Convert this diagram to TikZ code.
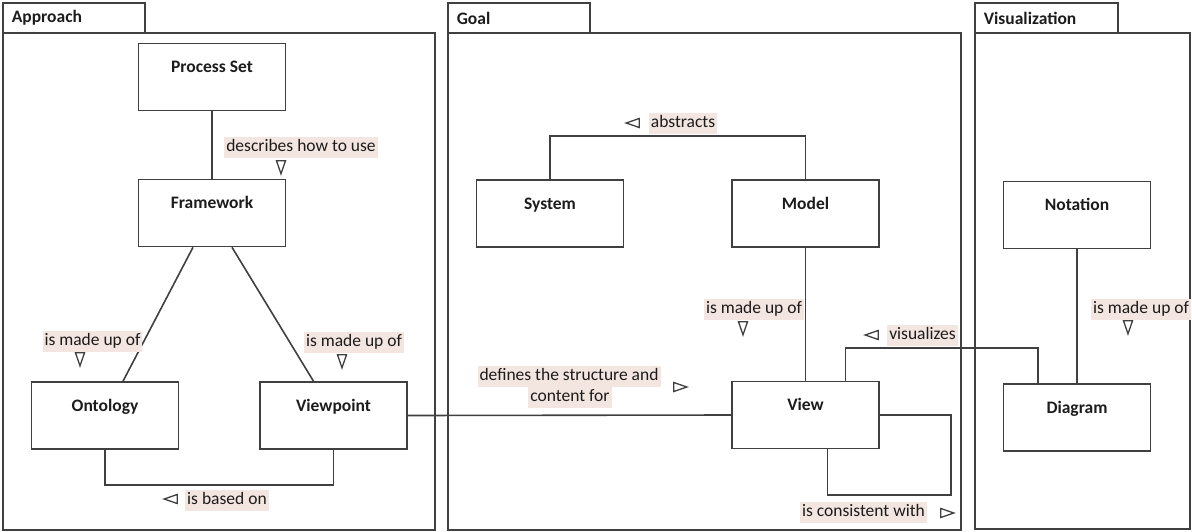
\documentclass[tikz,border=0pt]{standalone}
\usepackage{fontspec}
\setmainfont{Carlito}
\usetikzlibrary{shapes.geometric}
\definecolor{lblbg}{RGB}{243,229,223}
\definecolor{ink}{RGB}{64,64,64}
\definecolor{txt}{RGB}{28,28,28}

\begin{document}
\begin{tikzpicture}[x=1pt,y=-1pt,line width=1.6pt,color=ink,
	cls/.style={draw,rectangle,minimum width=147pt,minimum height=67pt,inner sep=0pt,text height=11pt,text depth=20pt,font=\bfseries\fontsize{17.5}{20}\selectfont,text=txt},
	pkgtitle/.style={anchor=west,inner sep=0pt,font=\bfseries\fontsize{17.5}{20}\selectfont,text=txt},
	lbl/.style={fill=lblbg,inner xsep=2pt,inner ysep=2.5pt,text height=12pt,text depth=4pt,font=\fontsize{17.5}{20}\selectfont,text=txt},
	tri/.style={draw,isosceles triangle,isosceles triangle stretches,minimum width=9pt,minimum height=13pt,inner sep=0pt,line width=1.3pt},
	trid/.style={tri,shape border rotate=-90},
	tril/.style={tri,shape border rotate=180},
	trir/.style={tri,shape border rotate=0}]
					\useasboundingbox (0,0) rectangle (1192,531);

					\draw (3,3) rectangle (145,33);
					\draw (3,33) rectangle (435,530);
					\draw (448,3) rectangle (590,33);
					\draw (448,33) rectangle (961,530);
					\draw (975,3) rectangle (1118,33);
					\draw (975,33) rectangle (1190,529);
					\node (tapp) [pkgtitle] at (11,18) {Approach};
					\node (tgoal) [pkgtitle] at (456,18) {Goal};
					\node (tvis) [pkgtitle] at (983,18) {Visualization};

					\node (ps) [cls] at (212,77) {Process Set};
					\node (fw) [cls] at (212,213) {Framework};
					\node (onto) [cls] at (105,415.5) {Ontology};
					\node (vp) [cls] at (333.5,415.5) {Viewpoint};
					\node (sys) [cls] at (550,213.5) {System};
					\node (mdl) [cls] at (805.5,213.5) {Model};
					\node (view) [cls] at (805.5,415) {View};
					\node (nota) [cls] at (1077,215) {Notation};
					\node (diag) [cls] at (1077,417.5) {Diagram};

					\path (ps.south) edge (fw.north);
					\path ([xshift=-19pt]fw.south) edge ([xshift=18pt]onto.north);
					\path ([xshift=20pt]fw.south) edge ([xshift=-20pt]vp.north);
					\draw (onto.south) -- ++(0,35) -| (vp.south);
					\path (vp.east) edge (view.west);
					\draw (sys.north) -- ++(0,-43) -| (mdl.north);
					\path (mdl.south) edge (view.north);
					\draw ([xshift=40pt]view.north) -- ++(0,-33) -| ([xshift=-39pt]diag.north);
					\draw (view.east) -- ++(71,0) -- ++(0,80) -| ([xshift=22pt]view.south);
					\path (nota.south) edge (diag.north);

					\node (l1) [lbl] at (301,147) {describes how to use};
					\node (a1) [trid] at (281,164) {};
					\node (l2) [lbl] at (92.5,341.5) {is made up of};
					\node (a2) [trid] at (80,356) {};
					\node (l3) [lbl] at (354,342.5) {is made up of};
					\node (a3) [trid] at (342,358) {};
					\node (l4) [lbl] at (227,500) {is based on};
					\node (a4) [tril] at (174,499) {};
					\node (l5) [lbl] at (683,123.5) {abstracts};
					\node (a5) [tril] at (636,123) {};
					\node (l6) [lbl] at (754,309.5) {is made up of};
					\node (a6) [trid] at (743,325) {};
					\node (l7) [lbl] at (922.5,335.5) {visualizes};
					\node (a7) [tril] at (875,335) {};
					\node (l8) [lbl] at (569,376.5) {defines the structure and};
					\node (l8b) [lbl] at (570,397.5) {content for};
					\node (a8) [trir] at (677,387) {};
					\node (l9) [lbl] at (863.5,512.5) {is consistent with};
					\node (a9) [trir] at (944,513) {};
					\node (l10) [lbl] at (1141,309) {is made up of};
					\node (a10) [trid] at (1128,324) {};
					\end{tikzpicture}
\end{document}
